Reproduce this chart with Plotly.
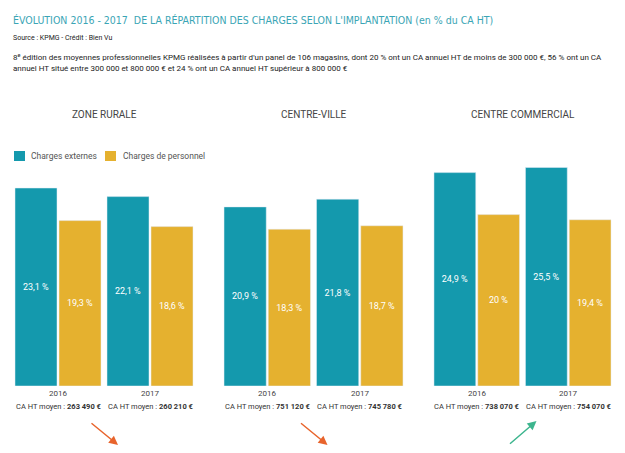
import plotly.graph_objects as go

W, H = 625, 453
OFF = 8  # page body margin of the browser
FW, FH = W - OFF, H - OFF

zones = ["ZONE RURALE", "CENTRE-VILLE", "CENTRE COMMERCIAL"]
years = ["2016", "2017"]
externes = [[23.1, 22.1], [20.9, 21.8], [24.9, 25.5]]
personnel = [[19.3, 18.6], [18.3, 18.7], [20.0, 19.4]]
ca_moyen = [["263 490 €", "260 210 €"], ["751 120 €", "745 780 €"], ["738 070 €", "754 070 €"]]
tendance = ["baisse", "baisse", "hausse"]
series_names = ["Charges externes", "Charges de personnel"]

TEAL = "#1499AD"
GOLD = "#E5B12F"
FONT = "Roboto"

def fmt(v):
    s = ("%.1f" % v).replace(".", ",")
    if s.endswith(",0"):
        s = s[:-2]
    return s + " %"

def px(x):
    return (x - OFF) / FW

def py(y):
    return 1 - (y - OFF) / FH

domains = [(12, 196), (221, 406), (431, 614)]

fig = go.Figure()
for i in range(3):
    xa = "x" if i == 0 else "x%d" % (i + 1)
    ya = "y" if i == 0 else "y%d" % (i + 1)
    fig.add_trace(go.Bar(
        x=years, y=externes[i], name=series_names[0], marker_color=TEAL,
        text=[fmt(v) for v in externes[i]], textposition="inside",
        insidetextanchor="middle", textfont=dict(color="white", size=9, family=FONT),
        xaxis=xa, yaxis=ya, showlegend=False, hoverinfo="skip"))
    fig.add_trace(go.Bar(
        x=years, y=personnel[i], name=series_names[1], marker_color=GOLD,
        text=[fmt(v) for v in personnel[i]], textposition="inside",
        insidetextanchor="middle", textfont=dict(color="white", size=9, family=FONT),
        xaxis=xa, yaxis=ya, showlegend=False, hoverinfo="skip"))

layout = dict(
    width=FW, height=FH, margin=dict(l=0, r=0, t=0, b=0, autoexpand=False),
    paper_bgcolor="white", plot_bgcolor="white",
    barmode="group", bargap=4 / 92, bargroupgap=2 / 44,
    font=dict(family=FONT, color="#444"),
    showlegend=False,
    uniformtext=dict(minsize=8, mode="show"),
)
ydom = [py(386), py(386 - 30 * 8.57)]
for i in range(3):
    sx = "" if i == 0 else str(i + 1)
    layout["xaxis" + sx] = dict(domain=[px(domains[i][0]), px(domains[i][1])],
                                type="category", range=[-0.5, 1.5],
                                anchor="y" + sx, showticklabels=False, ticks="",
                                showgrid=False, zeroline=False,
                                showline=False, automargin=False, fixedrange=True)
    layout["yaxis" + sx] = dict(domain=ydom, range=[0, 30], visible=False,
                                anchor="x" + sx, automargin=False, fixedrange=True)
fig.update_layout(**layout)

ann = []
shapes = []
ann.append(dict(text="ÉVOLUTION 2016 - 2017  DE LA RÉPARTITION DES CHARGES SELON L'IMPLANTATION (en % du CA HT)",
                x=px(11), y=py(20), xanchor="left", yanchor="middle", showarrow=False,
                font=dict(size=10.5, color="#3AA5B5", family="DejaVu Sans Condensed, Roboto")))
ann.append(dict(text="Source : KPMG - Crédit : Bien Vu", x=px(11), y=py(38), xanchor="left",
                yanchor="middle", showarrow=False, font=dict(size=7, color="#222", family=FONT)))
ann.append(dict(text="8<sup>e</sup> édition des moyennes professionnelles KPMG réalisées à partir d'un panel de 106 magasins, dont 20 % ont un CA annuel HT de moins de 300 000 €, 56 % ont un CA<br>annuel HT situé entre 300 000 et 800 000 € et 24 % ont un CA annuel HT supérieur à 800 000 €",
                x=px(11), y=py(63), xanchor="left", yanchor="middle", align="left", showarrow=False,
                font=dict(size=8, color="#222", family=FONT)))

# legend
leg = [(14, TEAL, series_names[0], 29), (105, GOLD, series_names[1], 121)]
for x0, col, name, tx in leg:
    shapes.append(dict(type="rect", xref="paper", yref="paper", x0=px(x0), x1=px(x0 + 11),
                       y0=py(161), y1=py(151), fillcolor=col, line_width=0))
    ann.append(dict(text=name, x=px(tx), y=py(156), xanchor="left", yanchor="middle",
                    showarrow=False, font=dict(size=8.5, color="#555", family=FONT)))

for i in range(3):
    sx = "" if i == 0 else str(i + 1)
    cx = (domains[i][0] + domains[i][1]) / 2
    ann.append(dict(text=zones[i], x=px(cx), y=py(114), xanchor="center", yanchor="middle",
                    showarrow=False, font=dict(size=10, color="#444", family=FONT)))
    for j in range(2):
        ann.append(dict(text=years[j], x=j, xref="x" + sx, y=py(393), yref="paper",
                        xanchor="center", yanchor="middle", showarrow=False,
                        font=dict(size=8, color="#444", family=FONT)))
        ann.append(dict(text="CA HT moyen : <b>%s</b>" % ca_moyen[i][j], x=j, xref="x" + sx,
                        y=py(406), yref="paper", xanchor="center", yanchor="middle",
                        showarrow=False, font=dict(size=7.5, color="#333", family=FONT)))
    if tendance[i] == "baisse":
        ann.append(dict(x=px(cx + 14), y=py(445), ax=-28, ay=-23,
                        axref="pixel", ayref="pixel",
                        text="", showarrow=True, arrowhead=2, arrowsize=1.2, arrowwidth=1.5,
                        arrowcolor="#E8642C"))
    else:
        ann.append(dict(x=px(cx + 14), y=py(421), ax=-28, ay=24,
                        axref="pixel", ayref="pixel",
                        text="", showarrow=True, arrowhead=2, arrowsize=1.2, arrowwidth=1.5,
                        arrowcolor="#3DB58E"))
for a in ann:
    a.setdefault("xref", "paper")
    a.setdefault("yref", "paper")
fig.update_layout(annotations=ann, shapes=shapes)

fig.write_html("out.html")
